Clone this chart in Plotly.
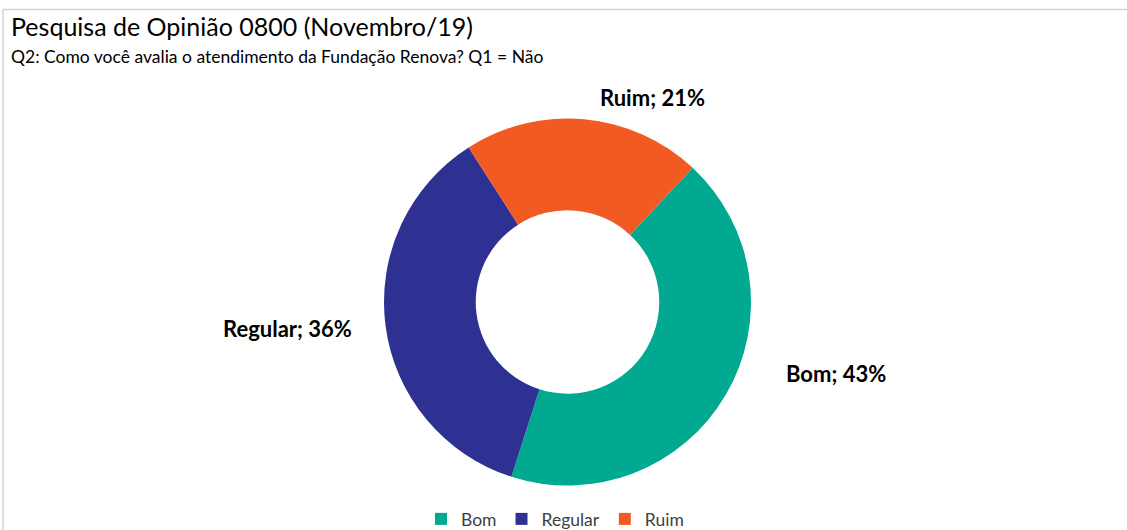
import plotly.graph_objects as go

categories = ["Bom", "Regular", "Ruim"]
values = [43, 36, 21]
colors = ["#00A990", "#2E3192", "#F15A22"]

W, H = 1127, 530

def px(x):
    return x / W

def py(y):
    return 1 - y / H

fig = go.Figure()
fig.add_trace(go.Pie(
    labels=categories,
    values=values,
    marker=dict(colors=colors, line=dict(width=0)),
    hole=0.5,
    sort=False,
    direction="clockwise",
    rotation=43,
    textinfo="none",
    hoverinfo="label+percent",
    domain=dict(x=[px(567.5 - 183.5), px(567.5 + 183.5)], y=[py(485.5), py(118.5)]),
))

label_pos = {"Bom": (836, 373), "Regular": (287, 328), "Ruim": (652, 98)}
total = sum(values)
annotations = []
for c, v in zip(categories, values):
    x, y = label_pos[c]
    annotations.append(dict(
        text=f"<b>{c}; {round(v / total * 100)}%</b>",
        x=px(x), y=py(y), xref="paper", yref="paper",
        xanchor="center", yanchor="middle", showarrow=False,
        font=dict(size=22, color="#000000", family="Lato"),
    ))

annotations.append(dict(
    text="Pesquisa de Opinião 0800 (Novembro/19)",
    x=px(9), y=py(26), xref="paper", yref="paper",
    xanchor="left", yanchor="middle", showarrow=False,
    font=dict(size=25, color="#000000", family="Lato"),
))
annotations.append(dict(
    text="Q2: Como você avalia o atendimento da Fundação Renova? Q1 = Não",
    x=px(9), y=py(57), xref="paper", yref="paper",
    xanchor="left", yanchor="middle", showarrow=False,
    font=dict(size=17.5, color="#000000", family="Lato"),
))

fig.update_layout(
    width=W, height=H,
    autosize=False,
    margin=dict(l=0, r=0, t=0, b=0, autoexpand=False),
    paper_bgcolor="white",
    plot_bgcolor="white",
    annotations=annotations,
    showlegend=True,
    legend=dict(
        orientation="h",
        xref="container", yref="container",
        x=px(555), y=py(519), xanchor="center", yanchor="middle",
        font=dict(size=17.5, color="#404040", family="Lato"),
        itemwidth=30,
        traceorder="normal",
    ),
    shapes=[
        dict(type="line", xref="paper", yref="paper",
             x0=px(3), x1=1.01, y0=py(9.5), y1=py(9.5),
             line=dict(color="#D0D0D0", width=1.5)),
        dict(type="line", xref="paper", yref="paper",
             x0=px(3), x1=px(3), y0=py(9.5), y1=-0.01,
             line=dict(color="#D0D0D0", width=1.5)),
    ],
)

fig.write_html("out.html", config={"displayModeBar": False, "responsive": False},
               post_script="document.body.style.margin='0';document.body.style.overflow='hidden';")
